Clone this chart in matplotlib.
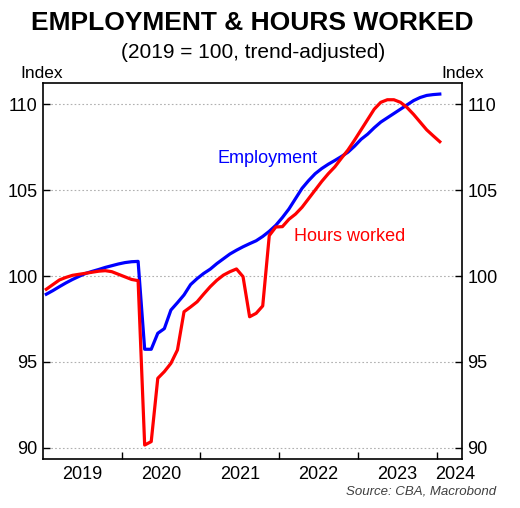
import numpy as np
import matplotlib
matplotlib.use("Agg")
import matplotlib.pyplot as plt
from matplotlib.ticker import FixedLocator, NullFormatter, FixedFormatter

plt.rcParams["font.family"] = ["Liberation Sans", "DejaVu Sans"]

# monthly, Jan 2019 .. Jan 2024 (index, 2019 = 100)
employment = [
    98.94, 99.15, 99.38, 99.60, 99.80, 99.98, 100.15, 100.27, 100.38, 100.50, 100.60, 100.70,
    100.78, 100.83, 100.85, 95.74, 95.74, 96.67, 96.94, 98.02, 98.45, 98.90, 99.50, 99.85,
    100.15, 100.40, 100.72, 101.00, 101.28, 101.50, 101.70, 101.88, 102.05, 102.30, 102.60, 102.95,
    103.40, 103.90, 104.50, 105.10, 105.55, 105.95, 106.25, 106.50, 106.72, 106.95, 107.20, 107.55,
    107.95, 108.25, 108.62, 108.95, 109.20, 109.45, 109.70, 109.95, 110.20, 110.38, 110.50, 110.55,
    110.58,
]
hours = [
    99.23, 99.50, 99.77, 99.92, 100.04, 100.10, 100.16, 100.22, 100.28, 100.31, 100.25, 100.10,
    99.95, 99.80, 99.73, 90.17, 90.37, 94.05, 94.44, 94.92, 95.70, 97.92, 98.20, 98.50,
    98.95, 99.38, 99.75, 100.05, 100.25, 100.41, 99.96, 97.63, 97.83, 98.26, 102.35, 102.85,
    102.87, 103.30, 103.60, 104.00, 104.50, 105.00, 105.50, 105.95, 106.35, 106.85, 107.33, 107.90,
    108.50, 109.10, 109.70, 110.10, 110.25, 110.25, 110.10, 109.80, 109.40, 108.95, 108.50, 108.15,
    107.81,
]
year_labels = ["2019", "2020", "2021", "2022", "2023", "2024"]
year_starts = [2020, 2021, 2022, 2023, 2024]
y_ticks = [90, 95, 100, 105, 110]

# mid-month positions in decimal years
t = 2019 + (np.arange(len(employment)) + 0.5) / 12

fig = plt.figure(figsize=(5.2, 5.08), dpi=100)
ax = fig.add_axes([0.0827, 0.0965, 0.8058, 0.740])

ax.plot(t, employment, color="#0000FF", lw=2.3, solid_joinstyle="round")
ax.plot(t, hours, color="#FF0000", lw=2.3, solid_joinstyle="round")

ax.set_xlim(2019.0, 2024.324)
ax.set_ylim(89.36, 111.22)

ax.xaxis.set_major_locator(FixedLocator(year_starts))
ax.xaxis.set_major_formatter(NullFormatter())
ax.xaxis.set_minor_locator(FixedLocator([2019.5, 2020.5, 2021.5, 2022.5, 2023.5, 2024.235]))
ax.xaxis.set_minor_formatter(FixedFormatter(year_labels))
ax.tick_params(axis="x", which="major", direction="in", length=5, width=1)
ax.tick_params(axis="x", which="minor", length=0, labelsize=13, pad=5)

ax.set_yticks(y_ticks)
ax.tick_params(axis="y", which="both", direction="in", length=5, width=1,
               labelsize=13, left=True, right=True, labelleft=True, labelright=True, pad=4)
ax.grid(axis="y", color="#b0b0b0", ls=(0, (1.5, 2)), lw=0.8)

for s in ax.spines.values():
    s.set_linewidth(1.2)

ax.text(2021.856, 106.86, "Employment", color="#0000FF", fontsize=13,
        ha="center", va="center")
ax.text(2022.9, 102.28, "Hours worked", color="#FF0000", fontsize=13,
        ha="center", va="center")

fig.text(0.485, 0.955, "EMPLOYMENT & HOURS WORKED", ha="center", va="center",
         fontsize=19, fontweight="bold")
fig.text(0.486, 0.897, "(2019 = 100, trend-adjusted)", ha="center", va="center",
         fontsize=15)
fig.text(0.081, 0.855, "Index", ha="center", va="center", fontsize=12.5)
fig.text(0.89, 0.855, "Index", ha="center", va="center", fontsize=12.5)
fig.text(0.954, 0.032, "Source: CBA, Macrobond", ha="right", va="center",
         fontsize=9.5, style="italic", color="#404040")

fig.savefig("out.png", dpi=100)
